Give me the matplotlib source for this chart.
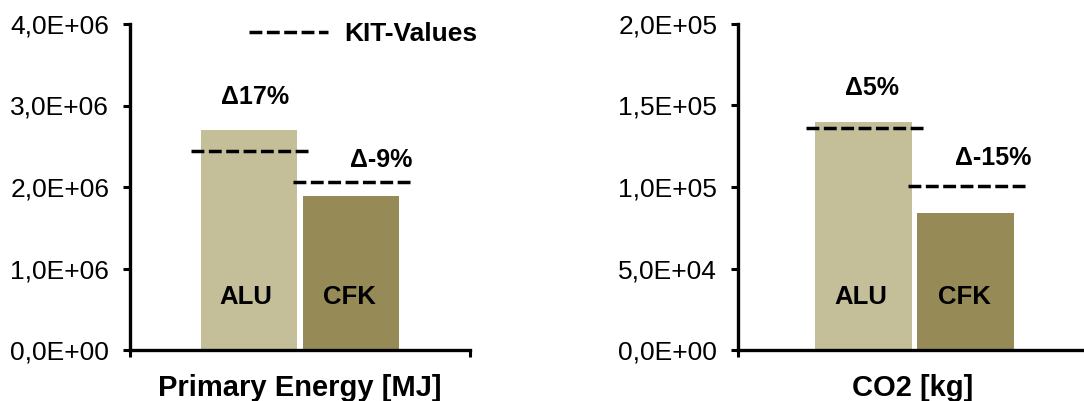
import matplotlib.pyplot as plt
from matplotlib.ticker import FuncFormatter, MultipleLocator

plt.rcParams['font.family'] = ['Liberation Sans', 'DejaVu Sans']

# data
materials = ['ALU', 'CFK']
colors = ['#C4BE99', '#968B56']

energy = [2.70e6, 1.89e6]          # Primary Energy [MJ]
energy_kit = [2.44e6, 2.06e6]
energy_delta = ['\u039417%', '\u0394-9%']

co2 = [1.40e5, 0.84e5]             # CO2 [kg]
co2_kit = [1.36e5, 1.005e5]
co2_delta = ['\u03945%', '\u0394-15%']

pos = [-0.3, 0.3]
bar_w = 0.57


def sci_comma(v, p):
    return ('%.1E' % v).replace('.', ',')


fig = plt.figure(figsize=(10.84, 4.01), dpi=100)
ax1 = fig.add_axes([130/1084, 51/401, 340/1084, 326/401])
ax2 = fig.add_axes([738/1084, 51/401, 350/1084, 326/401])


def draw(ax, vals, kit, deltas, ymax, step, xlab, xlim, dpos, legend=False):
    ax.bar(pos, vals, width=bar_w, color=colors, edgecolor='none', zorder=1)
    for i in range(2):
        ax.plot([pos[i] - 0.34, pos[i] + 0.36], [kit[i], kit[i]],
                color='black', lw=2.5, dashes=(3.7, 1.3), zorder=3,
                label='KIT-Values' if i == 0 else None)
        ax.text(pos[i] + (-0.02 if i == 0 else -0.01), 0.163, materials[i],
                transform=ax.get_xaxis_transform(), ha='center', va='center',
                fontsize=18.5, fontweight='bold')
        ax.text(dpos[i][0], dpos[i][1], deltas[i], ha='center', va='center',
                fontsize=18, fontweight='bold')
    ax.set_xlim(*xlim)
    ax.set_ylim(0, ymax)
    ax.yaxis.set_major_locator(MultipleLocator(step))
    ax.yaxis.set_major_formatter(FuncFormatter(sci_comma))
    ax.set_xticks(list(xlim))
    ax.set_xticklabels(['', ''])
    for s in ['top', 'right']:
        ax.spines[s].set_visible(False)
    for s in ['left', 'bottom']:
        ax.spines[s].set_linewidth(2.4)
    ax.tick_params(axis='both', direction='out', length=5, width=2.2,
                   labelsize=19, pad=10)
    ax.set_xlabel(xlab, fontsize=21, fontweight='bold', labelpad=2)
    if legend:
        ax.legend(loc='center left', bbox_to_anchor=(0.35, 0.969),
                  borderaxespad=0, borderpad=0, handlelength=3.0,
                  handletextpad=0.6, frameon=False,
                  prop={'size': 19, 'weight': 'bold'})


draw(ax1, energy, energy_kit, energy_delta, 4e6, 1e6,
     'Primary Energy [MJ]', (-1.0, 1.0),
     [(-0.265, 3.10e6), (0.48, 2.33e6)], legend=True)
draw(ax2, co2, co2_kit, co2_delta, 2e5, 0.5e5,
     'CO2 [kg]', (-1.04, 1.02),
     [(-0.25, 1.61e5), (0.46, 1.18e5)])

fig.savefig('out.png', dpi=100)
